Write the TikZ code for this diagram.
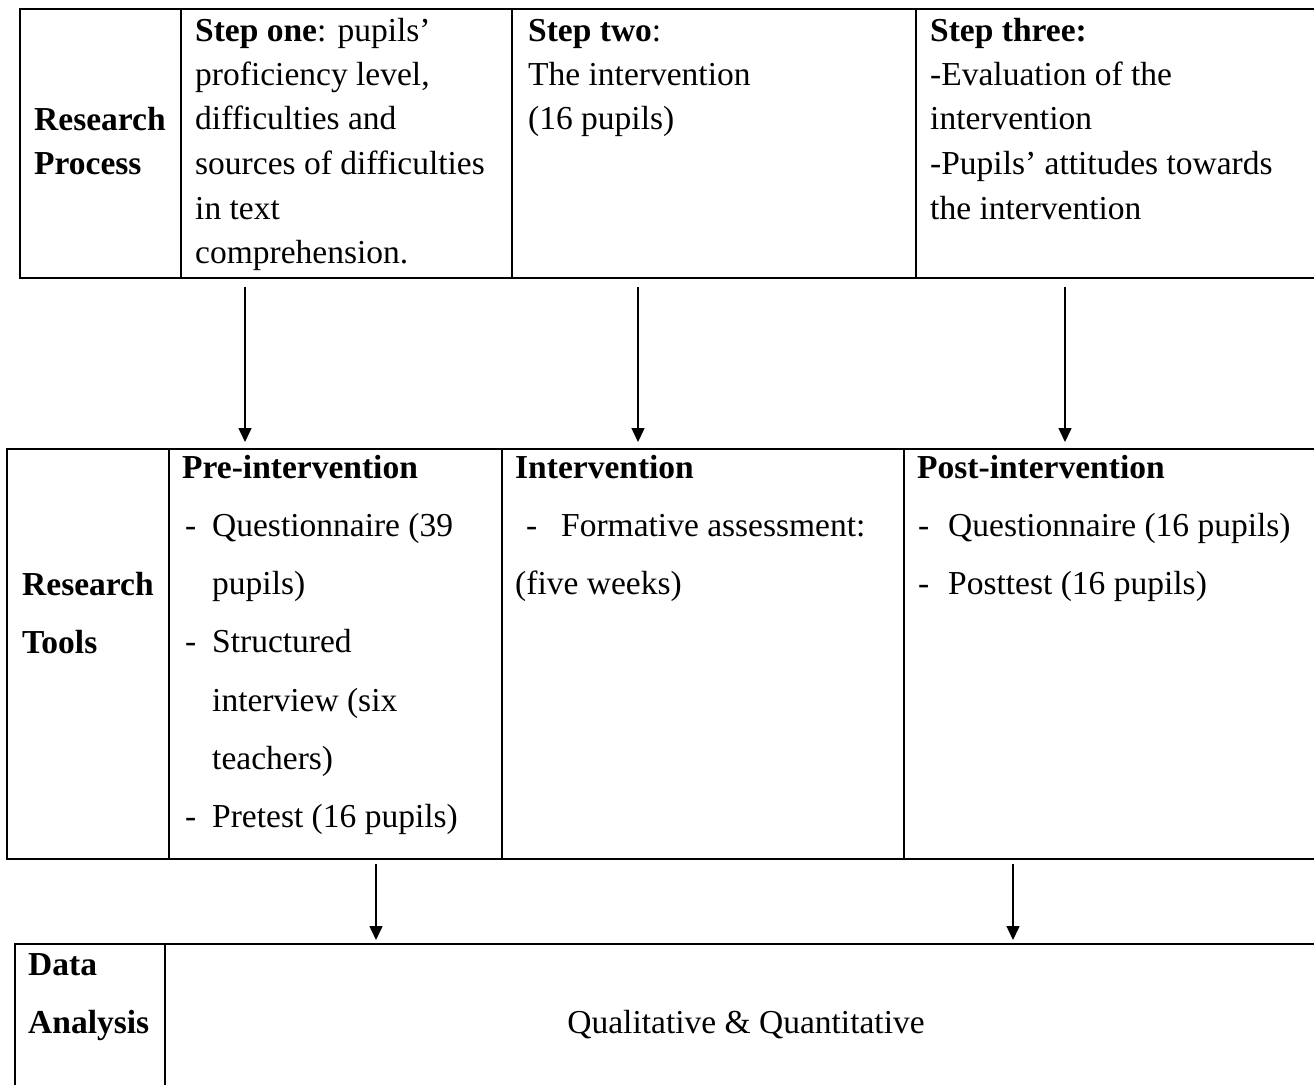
\documentclass[tikz,border=0pt]{standalone}
\usepackage{fontspec}
\setmainfont{Liberation Serif}
\usetikzlibrary{arrows.meta}
% list item: a hyphen in a box of fixed width, then the item text
\newcommand{\pitem}[2][30pt]{\makebox[#1][l]{#2-}}
\newcommand{\pind}[1][30pt]{\hspace*{#1}}
\begin{document}
\begin{tikzpicture}[x=1pt,y=-1pt,
  cell/.style={draw, line width=2pt, rectangle, inner sep=0pt, anchor=north west},
  txt/.style={anchor=base west, inner sep=0pt, font=\fontsize{33.5}{44.5}\selectfont},
  txtwide/.style={anchor=base west, inner sep=0pt, font=\fontsize{33.5}{58.3}\selectfont},
  arr/.style={line width=1.5pt, -{Triangle[length=14pt,width=13pt]}}]
\clip (0,0) rectangle (1314,1084);

% research process row
\node[cell, minimum width=161pt, minimum height=269pt] (rpCell) at (19,8) {};
\node[cell, minimum width=331pt, minimum height=269pt] (s1Cell) at (180,8) {};
\node[cell, minimum width=404pt, minimum height=269pt] (s2Cell) at (511,8) {};
\node[cell, minimum width=430pt, minimum height=269pt] (s3Cell) at (915,8) {};

% research tools row
\node[cell, minimum width=162pt, minimum height=410pt] (rtCell) at (6,448) {};
\node[cell, minimum width=332.5pt, minimum height=410pt] (preCell) at (168,448) {};
\node[cell, minimum width=402.5pt, minimum height=410pt] (intCell) at (500.5,448) {};
\node[cell, minimum width=430pt, minimum height=410pt] (postCell) at (903,448) {};

% data analysis row
\node[cell, minimum width=150pt, minimum height=200pt] (daCell) at (14,943) {};
\node[cell, minimum width=1190pt, minimum height=200pt] (qqCell) at (164,943) {};

% texts of the first row
\node[txt] (rpText) at (34,130) {\begin{tabular}[t]{@{}l@{}}\textbf{Research}\\\textbf{Process}\end{tabular}};
\node[txt] (s1Text) at (195,41) {\begin{tabular}[t]{@{}l@{}}\textbf{Step one}: pupils’\\proficiency level,\\difficulties and\\sources of difficulties\\in text\\comprehension.\end{tabular}};
\node[txt] (s2Text) at (528,41) {\begin{tabular}[t]{@{}l@{}}\textbf{Step two}:\\The intervention\\(16 pupils)\end{tabular}};
\node[txt] (s3Text) at (930,41) {\begin{tabular}[t]{@{}l@{}}\textbf{Step three:}\\-Evaluation of the\\intervention\\-Pupils’ attitudes towards\\the intervention\end{tabular}};

% texts of the second row
\node[txtwide] (rtText) at (22,595) {\begin{tabular}[t]{@{}l@{}}\textbf{Research}\\\textbf{Tools}\end{tabular}};
\node[txtwide] (preText) at (182,478) {\begin{tabular}[t]{@{}l@{}}\textbf{Pre-intervention}\\
  \pitem{\hspace*{3pt}}Questionnaire (39\\
  \pind pupils)\\
  \pitem{\hspace*{3pt}}Structured\\
  \pind interview (six\\
  \pind teachers)\\
  \pitem{\hspace*{3pt}}Pretest (16 pupils)\end{tabular}};
\node[txtwide] (intText) at (515,478) {\begin{tabular}[t]{@{}l@{}}\textbf{Intervention}\\
  \pitem[46pt]{\hspace*{11pt}}Formative assessment:\\
  (five weeks)\end{tabular}};
\node[txtwide] (postText) at (917,478) {\begin{tabular}[t]{@{}l@{}}\textbf{Post-intervention}\\
  \pitem[31pt]{\hspace*{1pt}}Questionnaire (16 pupils)\\
  \pitem[31pt]{\hspace*{1pt}}Posttest (16 pupils)\end{tabular}};

% texts of the third row
\node[txtwide] (daText) at (28,975) {\begin{tabular}[t]{@{}l@{}}\textbf{Data}\\\textbf{Analysis}\end{tabular}};
\node[txt, anchor=base] (qqText) at (746,1033) {Qualitative \& Quantitative};

% connectors
\coordinate (ax1) at (245,0);
\coordinate (ax2) at (638,0);
\coordinate (ax3) at (1065,0);
\coordinate (bx1) at (376,0);
\coordinate (bx2) at (1013,0);
\draw[arr, shorten <=8pt, shorten >=6pt] (s1Cell.south -| ax1) -- (preCell.north -| ax1);
\draw[arr, shorten <=8pt, shorten >=6pt] (s2Cell.south -| ax2) -- (intCell.north -| ax2);
\draw[arr, shorten <=8pt, shorten >=6pt] (s3Cell.south -| ax3) -- (postCell.north -| ax3);
\draw[arr, shorten <=4pt, shorten >=3pt] (preCell.south -| bx1) -- (qqCell.north -| bx1);
\draw[arr, shorten <=4pt, shorten >=3pt] (postCell.south -| bx2) -- (qqCell.north -| bx2);
\end{tikzpicture}
\end{document}
